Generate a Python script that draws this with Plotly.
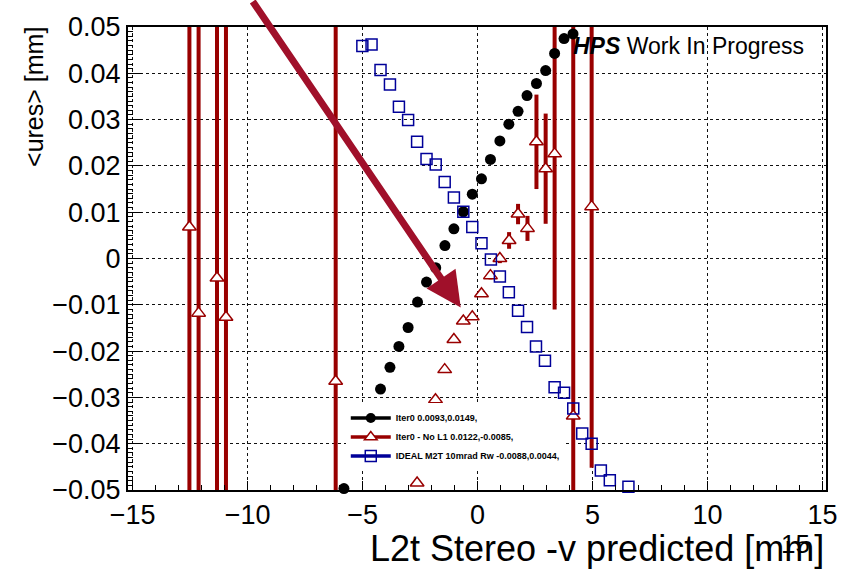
import plotly.graph_objects as go

# ---------------- data ----------------
black_x = [-5.81, -4.22, -3.81, -3.42, -3.02, -2.61, -2.22, -1.82, -1.42, -1.03, -0.62, -0.23,
           0.17, 0.56, 0.97, 1.36, 1.76, 2.15, 2.56, 2.96, 3.35, 3.76, 4.15]
black_y = [-0.0497, -0.0282, -0.0235, -0.0190, -0.0149, -0.0094, -0.0051, -0.0020, 0.0028, 0.0064,
           0.0101, 0.0139, 0.0172, 0.0214, 0.0254, 0.0290, 0.0318, 0.0352, 0.0378, 0.0406,
           0.0443, 0.0475, 0.0485]

red_x = [-12.53, -12.13, -11.33, -10.94, -6.17, -2.63, -1.83, -1.43, -1.03, -0.62, -0.23,
         0.17, 0.56, 0.97, 1.37, 1.76, 2.17, 2.56, 2.96, 3.35, 4.16, 4.96]
red_y = [0.0068, -0.0118, -0.0042, -0.0127, -0.0265, -0.0485, -0.0305, -0.0240, -0.0175, -0.0135,
         -0.0126, -0.0076, -0.0037, 0.0000, 0.0039, 0.0096, 0.0065, 0.0252, 0.0194, 0.0226,
         -0.0340, 0.0112]
red_err = [0.2, 0.2, 0.2, 0.2, 0.2, 0.0004, 0.0006, 0.0006, 0.0006, 0.0006, 0.0006,
           0.0006, 0.0008, 0.0010, 0.0018, 0.0022, 0.0027, 0.0102, 0.0119, 0.0336, 0.2, 0.0564]

blue_x = [-5.01, -4.61, -4.22, -3.81, -3.42, -3.02, -2.63, -2.22, -1.82, -1.43, -1.03, -0.62,
          -0.23, 0.17, 0.58, 0.97, 1.36, 1.76, 2.15, 2.54, 2.93, 3.35, 3.76, 4.16, 4.55, 4.96,
          5.36, 5.75, 6.56]
blue_y = [0.0459, 0.0462, 0.0407, 0.0376, 0.0328, 0.0299, 0.0252, 0.0215, 0.0203, 0.0165,
          0.0132, 0.0101, 0.0068, 0.0033, -0.0002, -0.0039, -0.0073, -0.0113, -0.0148, -0.0190,
          -0.0221, -0.0278, -0.0290, -0.0324, -0.0378, -0.0400, -0.0458, -0.0479, -0.0493]

names = ["Iter0 0.0093,0.0149,",
         "Iter0 - No L1 0.0122,-0.0085,",
         "IDEAL M2T 10mrad Rw -0.0088,0.0044,"]

x_title = "L2t Stereo -v predicted [mm]"
y_title = "&lt;ures&gt; [mm]"

BLACK = "#000000"
RED = "#990000"
BLUE = "#000099"
ARROW = "#a0102a"
FONT = "Liberation Sans, Arial, Helvetica, sans-serif"

fig = go.Figure()

# legend-only entries (line + marker, like ROOT "lpe")
fig.add_trace(go.Scatter(x=[None], y=[None], mode="lines+markers", name=names[0],
                         line=dict(color=BLACK, width=3.5),
                         marker=dict(symbol="circle", size=10, color=BLACK)))
fig.add_trace(go.Scatter(x=[None], y=[None], mode="lines+markers", name=names[1],
                         line=dict(color=RED, width=3.5),
                         marker=dict(symbol="triangle-up", size=11, color="white",
                                     line=dict(color=RED, width=1.5))))
fig.add_trace(go.Scatter(x=[None], y=[None], mode="lines+markers", name=names[2],
                         line=dict(color=BLUE, width=3.5),
                         marker=dict(symbol="square-open", size=11, color=BLUE,
                                     line=dict(color=BLUE, width=1.5))))

# data traces
fig.add_trace(go.Scatter(x=red_x, y=red_y, mode="markers", showlegend=False,
                         error_y=dict(type="data", array=red_err, color=RED,
                                      thickness=4, width=0),
                         marker=dict(symbol="triangle-up", size=12, color="white",
                                     line=dict(color=RED, width=1.5))))
fig.add_trace(go.Scatter(x=black_x, y=black_y, mode="markers", showlegend=False,
                         cliponaxis=False,
                         marker=dict(symbol="circle", size=11, color=BLACK)))
fig.add_trace(go.Scatter(x=blue_x, y=blue_y, mode="markers", showlegend=False,
                         cliponaxis=False,
                         marker=dict(symbol="square-open", size=11, color=BLUE,
                                     line=dict(color=BLUE, width=1.5))))

axis_common = dict(
    showline=True, linecolor="black", linewidth=2, mirror=True,
    ticks="inside", tickcolor="black", tickwidth=1,
    showgrid=True, gridcolor="#111111", gridwidth=1, griddash="dot",
    zeroline=False,
    tickfont=dict(family=FONT, size=27, color="black"),
)

fig.update_xaxes(range=[-15.2, 15.15], tickmode="linear", tick0=0, dtick=5, ticklen=9,
                 minor=dict(ticks="inside", dtick=1, ticklen=5, tickcolor="black",
                            showgrid=False),
                 **axis_common)
fig.update_yaxes(range=[-0.05, 0.05], tickmode="linear", tick0=0, dtick=0.01, ticklen=14,
                 minor=dict(ticks="inside", dtick=0.001, ticklen=5, tickcolor="black",
                            showgrid=False),
                 **axis_common)

fig.update_layout(
    width=850, height=576,
    margin=dict(l=128, r=22, t=18, b=86),
    paper_bgcolor="white", plot_bgcolor="white",
    font=dict(family=FONT, color="black"),
    showlegend=True,
    legend=dict(x=0.312, y=0.187, xanchor="left", yanchor="top",
                bgcolor="white", borderwidth=0, itemwidth=40,
                font=dict(family=FONT, size=9, color="black", weight="bold"),
                tracegroupgap=0),
    annotations=[
        dict(text="<b><i>HPS</i></b> Work In Progress", xref="paper", yref="paper",
             x=0.634, y=0.959, xanchor="left", yanchor="middle", showarrow=False,
             font=dict(family=FONT, size=23, color="black")),
        dict(text=x_title, xref="paper", yref="paper", x=1.0, y=-0.127,
             xanchor="right", yanchor="middle", showarrow=False,
             font=dict(family=FONT, size=36, color="black")),
        dict(text=y_title, xref="paper", yref="paper", x=-0.1357, y=1.005,
             xanchor="center", yanchor="top", textangle=-90, showarrow=False,
             font=dict(family=FONT, size=25, color="black")),
        dict(text="15", xref="paper", yref="paper", x=0.957, y=-0.117,
             xanchor="center", yanchor="middle", showarrow=False,
             font=dict(family=FONT, size=26, color="black")),
        dict(text="", xref="paper", yref="paper", x=0.4767, y=0.394,
             showarrow=True, ax=-209, ay=-314, arrowhead=2, arrowsize=1,
             arrowwidth=7, arrowcolor=ARROW, standoff=0),
    ],
)

fig.write_html("out.html")
